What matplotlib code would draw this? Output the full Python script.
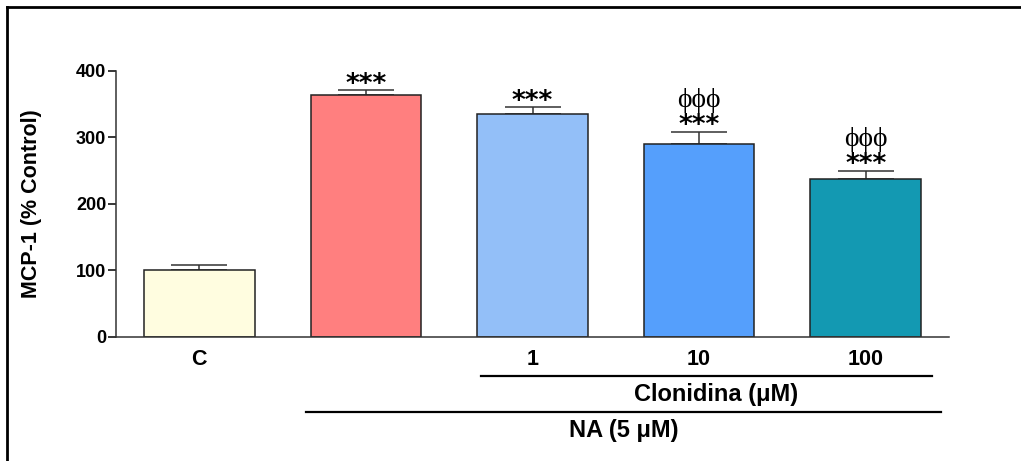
import matplotlib.pyplot as plt
from matplotlib.lines import Line2D
from matplotlib.transforms import blended_transform_factory

# MCP-1 levels, % of control
groups = ['C', '', '1', '10', '100']
means = [100, 364, 336, 290, 237]
sems = [8, 7, 10, 19, 13]
colors = ['#FFFDE0', '#FF7F7F', '#93BFF8', '#559FFC', '#1399B2']
stars = ['', '***', '***', '***', '***']
phis = ['', '', '', 'ϕϕϕ', 'ϕϕϕ']

plt.rcParams['font.family'] = ['Liberation Sans', 'DejaVu Sans']

fig = plt.figure(figsize=(10.21, 4.61), dpi=100)
ax = fig.add_axes([0.1136, 0.269, 0.8159, 0.577])

x = list(range(len(means)))
ax.bar(x, means, width=0.663, color=colors, edgecolor='#222222', linewidth=1.1, zorder=2)
ax.errorbar(x, means, yerr=[[0] * len(sems), sems], fmt='none', ecolor='#333333',
            elinewidth=1.1, capsize=20, capthick=1.1, zorder=1)

for xi, m, s, st, ph in zip(x, means, sems, stars, phis):
    if st:
        ax.annotate(st, (xi, m + s), xytext=(0, -5.5), textcoords='offset points',
                    ha='center', va='bottom', fontsize=19, fontweight='bold',
                    family='DejaVu Sans')
    if ph:
        ax.annotate(ph, (xi, m + s), xytext=(0, 13.5), textcoords='offset points',
                    ha='center', va='bottom', fontsize=20, family='Liberation Serif')

ax.set_xlim(-0.5, 4.5)
ax.set_ylim(0, 400)
ax.set_yticks([0, 100, 200, 300, 400])
ax.set_xticks(x)
ax.set_xticklabels(groups, fontsize=15.5, fontweight='bold')
ax.tick_params(axis='x', length=0, pad=9)
ax.tick_params(axis='y', length=6, width=1.1, labelsize=13, pad=1)
for lab in ax.get_yticklabels():
    lab.set_fontweight('bold')
ax.set_ylabel('MCP-1 (% Control)', fontsize=15.5, fontweight='bold')
ax.yaxis.set_label_coords(-0.089, 0.5)

for side in ['top', 'right']:
    ax.spines[side].set_visible(False)
for side in ['left', 'bottom']:
    ax.spines[side].set_linewidth(1.1)
    ax.spines[side].set_color('#333333')

# treatment brackets below the axis
trans = blended_transform_factory(ax.transData, ax.transAxes)
ax.plot([1.69, 4.40], [-0.147, -0.147], color='black', lw=1.6, transform=trans, clip_on=False)
ax.text(3.1, -0.215, 'Clonidina (μM)', transform=trans, ha='center', va='center',
        fontsize=17, fontweight='bold')
ax.plot([0.64, 4.45], [-0.282, -0.282], color='black', lw=1.6, transform=trans, clip_on=False)
ax.text(2.545, -0.35, 'NA (5 μM)', transform=trans, ha='center', va='center',
        fontsize=17, fontweight='bold')

# frame around the panel
fig.add_artist(Line2D([0.007, 0.007], [0, 0.985], color='black', lw=2, transform=fig.transFigure))
fig.add_artist(Line2D([0.007, 1.0], [0.985, 0.985], color='black', lw=2, transform=fig.transFigure))

fig.savefig('out.png', dpi=100)
